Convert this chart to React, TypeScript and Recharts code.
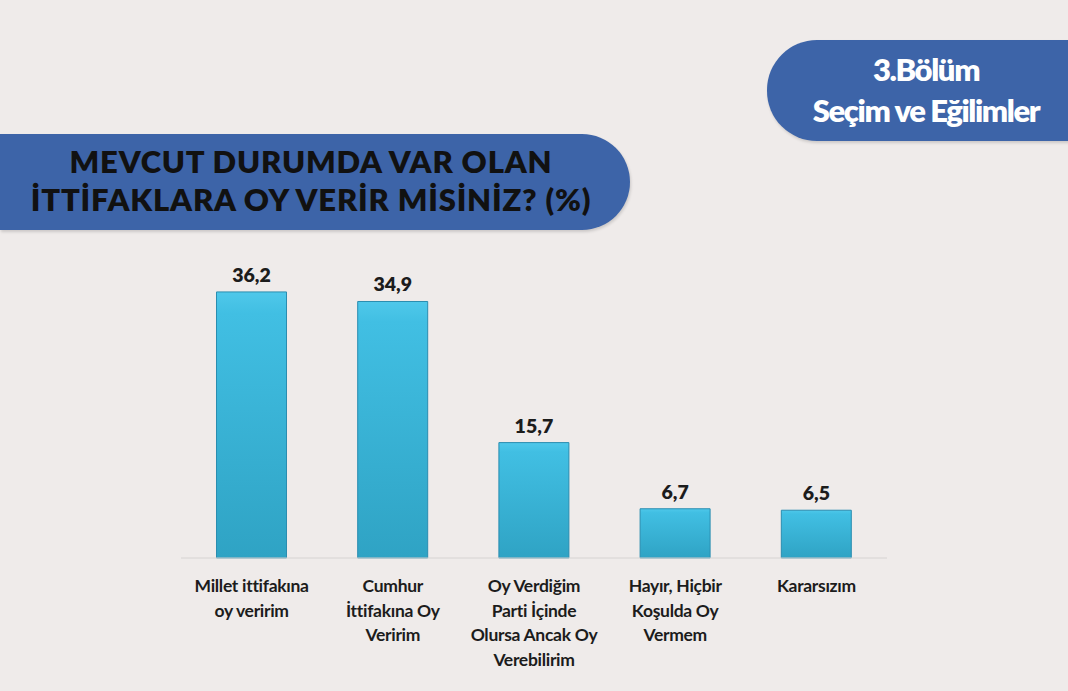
import React from "react";
import { BarChart, Bar, XAxis, YAxis, LabelList } from "recharts";

// category labels (line breaks as in the original slide)
const categories = [
  "Millet ittifakına\noy veririm",
  "Cumhur\nİttifakına Oy\nVeririm",
  "Oy Verdiğim\nParti İçinde\nOlursa Ancak Oy\nVerebilirim",
  "Hayır, Hiçbir\nKoşulda Oy\nVermem",
  "Kararsızım",
];
const values = [36.2, 34.9, 15.7, 6.7, 6.5];

const titleLines = ["MEVCUT DURUMDA VAR OLAN", "İTTİFAKLARA OY VERİR MİSİNİZ? (%)"];
const badgeLines = ["3.Bölüm", "Seçim ve Eğilimler"];

const data = categories.map((name, i) => ({ name, value: values[i] }));

const FONT = "Lato, 'Open Sans', sans-serif";

function CategoryTick(props: any) {
  const { x, y, payload } = props;
  const lines = String(payload.value).split("\n");
  return (
    <g transform={`translate(${x},${y})`}>
      {lines.map((line, i) => (
        <text
          key={i}
          x={0}
          y={26 + i * 24.7}
          textAnchor="middle"
          fontFamily={FONT}
          fontWeight={700}
          fontSize={17.5}
          letterSpacing={-0.3}
          fill="#1c1c1c"
        >
          {line}
        </text>
      ))}
    </g>
  );
}

const fmt = (v: any) => String(v).replace(".", ",");

export default function App() {
  return (
    <div
      style={{
        position: "fixed",
        left: 0,
        top: 0,
        width: 1068,
        height: 691,
        background: "#efebea",
        overflow: "hidden",
        fontFamily: FONT,
      }}
    >
      {/* title banner */}
      <div
        style={{
          position: "absolute",
          left: 0,
          top: 134,
          width: 630,
          height: 96,
          background: "#3d64a8",
          borderRadius: "0 48px 48px 0",
          boxShadow: "1px 2px 3px rgba(0,0,0,0.15)",
        }}
      />
      <div
        style={{
          position: "absolute",
          left: 0,
          top: 142,
          width: 622,
          textAlign: "center",
          color: "#111",
          fontWeight: 800,
          fontSize: 31,
          lineHeight: "38px",
          letterSpacing: 0.8,
        }}
      >
        {titleLines.map((t) => (
          <div key={t}>{t}</div>
        ))}
      </div>

      {/* section badge */}
      <div
        style={{
          position: "absolute",
          left: 767,
          top: 40,
          width: 320,
          height: 101,
          background: "#3d64a8",
          borderRadius: "50px 0 0 50px",
          boxShadow: "1px 2px 3px rgba(0,0,0,0.15)",
        }}
      />
      <div
        style={{
          position: "absolute",
          left: 790,
          top: 49,
          width: 272,
          textAlign: "center",
          color: "#ffffff",
          fontWeight: 800,
          fontSize: 31,
          lineHeight: "41px",
          letterSpacing: -1.4,
        }}
      >
        {badgeLines.map((t) => (
          <div key={t}>{t}</div>
        ))}
      </div>

      <div style={{ position: "absolute", left: 0, top: 0 }}>
        <BarChart
          width={1068}
          height={691}
          data={data}
          margin={{ top: 264, right: 181, bottom: 13, left: 181 }}
          barCategoryGap={35.5}
        >
          <defs>
            <linearGradient id="barFill" x1="0" y1="0" x2="0" y2="1">
              <stop offset="0%" stopColor="#4fc8ea" />
              <stop offset="8%" stopColor="#41bfe3" />
              <stop offset="100%" stopColor="#2fa3c4" />
            </linearGradient>
          </defs>
          <YAxis hide domain={[0, 40]} />
          <XAxis
            dataKey="name"
            interval={0}
            height={120}
            tickLine={false}
            axisLine={{ stroke: "#d6d3d2", strokeWidth: 1 }}
            tick={<CategoryTick />}
          />
          <Bar
            dataKey="value"
            fill="url(#barFill)"
            stroke="#2a8db0"
            strokeWidth={1}
            isAnimationActive={false}
          >
            <LabelList
              dataKey="value"
              position="top"
              offset={10}
              formatter={fmt}
              style={{
                fontFamily: FONT,
                fontWeight: 800,
                fontSize: 19.5,
                fill: "#1c1c1c",
              }}
            />
          </Bar>
        </BarChart>
      </div>
    </div>
  );
}
